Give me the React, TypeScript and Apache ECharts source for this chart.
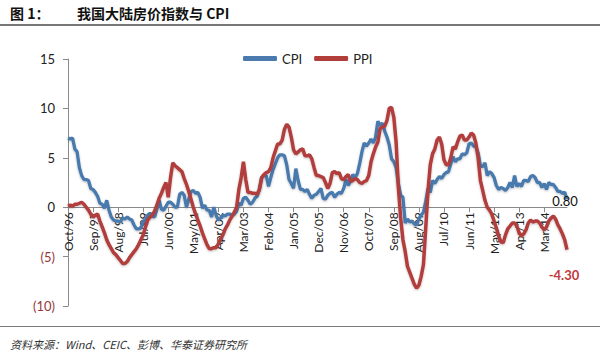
import React, { useEffect, useRef } from "react";
import * as echarts from "echarts";

const START_YEAR = 1996;
const START_MONTH = 9; // Oct (0-based)
const MONTH_NAMES = ["Jan", "Feb", "Mar", "Apr", "May", "Jun", "Jul", "Aug", "Sep", "Oct", "Nov", "Dec"];

// CPI YoY %, Oct 1996 – Jan 2015
const cpi: number[] = [
  7.0, 6.9, 7.0,
  5.9, 5.6, 4.0, 3.2, 2.8, 2.8, 2.7, 1.9, 1.8, 1.5, 1.1, 0.4,
  0.3, -0.1, 0.7, -0.3, -1.0, -1.3, -1.4, -1.4, -1.5, -1.1, -1.2, -1.0,
  -1.2, -1.3, -1.8, -2.2, -2.2, -2.1, -1.4, -1.3, -0.8, -0.6, -0.9, -1.0,
  -0.2, 0.7, -0.2, -0.3, 0.1, 0.5, 0.5, 0.3, 0.0, 0.0, 1.3, 1.5,
  1.2, 0.0, 0.8, 1.6, 1.7, 1.4, 1.5, 1.0, -0.1, 0.2, -0.3, -0.3,
  -1.0, 0.0, -0.8, -1.3, -1.1, -0.8, -0.9, -0.7, -0.7, -0.8, -0.7, -0.4,
  0.4, 0.2, 0.9, 1.0, 0.7, 0.3, 0.5, 0.9, 1.1, 1.8, 3.0, 3.2,
  3.2, 2.1, 3.0, 3.8, 4.4, 5.0, 5.3, 5.3, 5.2, 4.3, 2.8, 2.4,
  1.9, 3.9, 2.7, 1.8, 1.8, 1.6, 1.8, 1.3, 0.9, 1.2, 1.3, 1.6,
  1.9, 0.9, 0.8, 1.2, 1.4, 1.5, 1.0, 1.3, 1.5, 1.4, 1.9, 2.8,
  2.2, 2.7, 3.3, 3.0, 3.4, 4.4, 5.6, 6.5, 6.2, 6.5, 6.9, 6.5,
  7.1, 8.7, 8.3, 8.5, 7.7, 7.1, 6.3, 4.9, 4.6, 4.0, 2.4, 1.2,
  1.0, -1.6, -1.2, -1.5, -1.4, -1.7, -1.8, -1.2, -0.8, -0.5, 0.6, 1.9,
  1.5, 2.7, 2.4, 2.8, 3.1, 2.9, 3.3, 3.5, 3.6, 4.4, 5.1, 4.6,
  4.9, 4.9, 5.4, 5.3, 5.5, 6.4, 6.5, 6.2, 6.1, 5.5, 4.2, 4.1,
  4.5, 3.2, 3.6, 3.4, 3.0, 2.2, 1.8, 2.0, 1.9, 1.7, 2.0, 2.5,
  2.0, 3.2, 2.1, 2.4, 2.1, 2.7, 2.7, 2.6, 3.1, 3.2, 3.0, 2.5,
  2.5, 2.0, 2.4, 1.8, 2.5, 2.3, 2.3, 2.0, 1.6, 1.6, 1.4, 1.5,
  0.8,
];

// PPI YoY %, Oct 1996 – Jan 2015
const ppi: number[] = [
  0.1, 0.2, 0.1,
  0.3, 0.3, 0.4, 0.5, 0.3, 0.0, -0.3, -0.7, -1.0, -0.8, -0.7, -1.4,
  -2.0, -2.6, -3.3, -3.8, -4.2, -4.6, -4.8, -5.1, -5.4, -5.7, -5.7, -5.5,
  -5.1, -4.8, -4.5, -4.2, -3.8, -3.3, -2.8, -2.0, -1.3, -1.0, -0.8, -0.4,
  0.2, 0.9, 1.4, 2.0, 2.5, 1.0, 3.0, 4.5, 4.2, 4.0, 3.8, 3.6,
  2.9, 2.3, 1.6, 0.8, 0.0, -0.7, -1.3, -1.9, -2.6, -3.2, -3.8, -4.2,
  -4.2, -4.1, -4.1, -3.7, -3.2, -2.8, -2.2, -1.8, -1.3, -0.9, -0.5, 0.0,
  1.8, 3.0, 4.6, 2.8, 1.5, 1.5, 1.4, 1.4, 1.3, 1.8, 3.0, 3.3,
  3.5, 3.6, 4.0, 5.0, 5.7, 6.4, 6.4, 6.8, 7.9, 8.4, 8.1, 7.1,
  5.8, 5.4, 5.6, 5.8, 5.9, 5.2, 5.2, 5.3, 4.9, 4.0, 3.2, 3.2,
  3.1, 3.0, 2.5, 1.9, 2.4, 3.5, 3.6, 3.4, 3.5, 2.9, 2.8, 3.1,
  3.3, 2.6, 2.7, 2.9, 2.8, 2.5, 2.4, 2.6, 2.7, 3.2, 4.6, 5.4,
  6.1, 6.6, 8.0, 8.1, 8.2, 8.8, 10.0, 10.1, 9.1, 6.6, 2.0, -1.1,
  -3.3, -4.5, -6.0, -6.6, -7.2, -7.8, -8.2, -7.9, -7.0, -5.8, -2.1, 1.7,
  4.3, 5.4, 5.9, 6.8, 7.1, 6.4, 4.8, 4.3, 4.3, 5.0, 6.1, 5.9,
  6.6, 7.2, 7.3, 6.8, 6.8, 7.1, 7.5, 7.3, 6.5, 5.0, 2.7, 1.7,
  0.7, 0.0, -0.3, -0.7, -1.4, -2.1, -2.9, -3.5, -3.6, -2.8, -2.2, -1.9,
  -1.6, -1.6, -1.9, -2.6, -2.9, -2.7, -2.3, -1.6, -1.3, -1.5, -1.4, -1.4,
  -1.6, -2.0, -2.3, -2.0, -1.4, -1.1, -0.9, -1.2, -1.8, -2.2, -2.7, -3.3,
  -4.3,
];

const categories: string[] = cpi.map((_, i) => {
  const t = START_MONTH + i;
  const m = t % 12;
  const y = START_YEAR + Math.floor(t / 12);
  return `${MONTH_NAMES[m]}/${String(y % 100).padStart(2, "0")}`;
});

const seriesNames = ["CPI", "PPI"];
const yMin = -10;
const yMax = 15;
const yStep = 5;
const titleLabel = "图 1：";
const titleText = "我国大陆房价指数与 CPI";
const sourceText = "资料来源：Wind、CEIC、彭博、华泰证券研究所";

const CPI_COLOR = "#4a7aae";
const PPI_COLOR = "#b23e3c";

const GRID_TOP = 59;
const GRID_BOTTOM = 51;
const CHART_H = 357;

export default function App() {
  const ref = useRef<HTMLDivElement>(null);

  useEffect(() => {
    if (!ref.current) return;
    const chart = echarts.init(ref.current, null, { renderer: "svg" });
    const last = cpi.length - 1;
    const font = "Lato";
    const gridH = CHART_H - GRID_TOP - GRID_BOTTOM;
    const zeroFromBottom = (gridH * (0 - yMin)) / (yMax - yMin);
    const lineShadow = {
      shadowColor: "rgba(0,0,0,0.25)",
      shadowBlur: 2,
      shadowOffsetY: 1,
    };
    chart.setOption({
      animation: false,
      backgroundColor: "#ffffff",
      textStyle: { fontFamily: font },
      grid: { left: 68, right: 40, top: GRID_TOP, bottom: GRID_BOTTOM, containLabel: false },
      legend: {
        data: seriesNames.map((n) => ({ name: n, icon: "roundRect" })),
        left: 238,
        top: 47,
        itemWidth: 34,
        itemHeight: 5,
        itemGap: 12,
        textStyle: { fontFamily: font, fontSize: 13, color: "#222" },
      },
      xAxis: {
        type: "category",
        boundaryGap: false,
        data: categories,
        position: "bottom",
        offset: -zeroFromBottom,
        axisLine: { onZero: false, lineStyle: { color: "#8a8a8a", width: 1 } },
        axisTick: { show: true, interval: 10, length: 5, lineStyle: { color: "#8a8a8a" } },
        axisLabel: {
          interval: 10,
          rotate: 90,
          margin: 5,
          fontFamily: font,
          fontSize: 12,
          color: "#222",
        },
        splitLine: { show: false },
      },
      yAxis: {
        type: "value",
        min: yMin,
        max: yMax,
        interval: yStep,
        axisLine: { show: true, lineStyle: { color: "#8a8a8a", width: 1 } },
        axisTick: { show: true, length: 5, lineStyle: { color: "#8a8a8a" } },
        splitLine: { show: false },
        axisLabel: {
          margin: 13,
          fontFamily: font,
          fontSize: 13,
          color: "#222",
          formatter: (v: number) => (v < 0 ? `{n|(${-v})}` : `${v}`),
          rich: { n: { color: "#93393a", fontFamily: font, fontSize: 13 } },
        },
      },
      series: [
        {
          name: seriesNames[0],
          type: "line",
          data: cpi,
          symbol: "none",
          lineStyle: { color: CPI_COLOR, width: 3.3, ...lineShadow },
          itemStyle: { color: CPI_COLOR },
          markPoint: {
            symbol: "circle",
            symbolSize: 0,
            data: [{ coord: [last, cpi[last]], value: cpi[last] }],
            label: {
              show: true,
              position: "inside",
              offset: [-2, 2],
              formatter: () => cpi[last].toFixed(2),
              fontFamily: font,
              fontSize: 13,
              color: "#111",
            },
          },
        },
        {
          name: seriesNames[1],
          type: "line",
          data: ppi,
          symbol: "none",
          lineStyle: { color: PPI_COLOR, width: 3.5, ...lineShadow },
          itemStyle: { color: PPI_COLOR },
          markPoint: {
            symbol: "circle",
            symbolSize: 0,
            data: [{ coord: [last, ppi[last]], value: ppi[last] }],
            label: {
              show: true,
              position: "inside",
              offset: [-3, 25],
              formatter: () => ppi[last].toFixed(2),
              fontFamily: font,
              fontSize: 13,
              fontWeight: "bold",
              color: "#c0393b",
            },
          },
        },
      ],
      graphic: [
        {
          type: "text",
          left: 10,
          top: 6,
          style: {
            text: titleLabel,
            font: "bold 14px 'Noto Sans CJK SC'",
            fill: "#111",
          },
        },
        {
          type: "text",
          left: 77,
          top: 6,
          style: {
            text: titleText,
            font: "bold 14px 'Noto Sans CJK SC'",
            fill: "#111",
          },
        },
        {
          type: "line",
          shape: { x1: 0, y1: 25, x2: 600, y2: 25 },
          style: { stroke: "#4a4a4a", lineWidth: 1.5 },
        },
        {
          type: "line",
          shape: { x1: 0, y1: 326.5, x2: 600, y2: 326.5 },
          style: { stroke: "#7a7a7a", lineWidth: 1 },
        },
        {
          type: "text",
          left: 10,
          top: 338,
          style: {
            text: sourceText,
            font: "italic 11px 'Noto Sans CJK SC'",
            fill: "#333",
          },
        },
      ],
    });
    return () => chart.dispose();
  }, []);

  return (
    <div
      ref={ref}
      style={{ position: "fixed", left: 0, top: 0, width: 607, height: 357, background: "#fff" }}
    />
  );
}
